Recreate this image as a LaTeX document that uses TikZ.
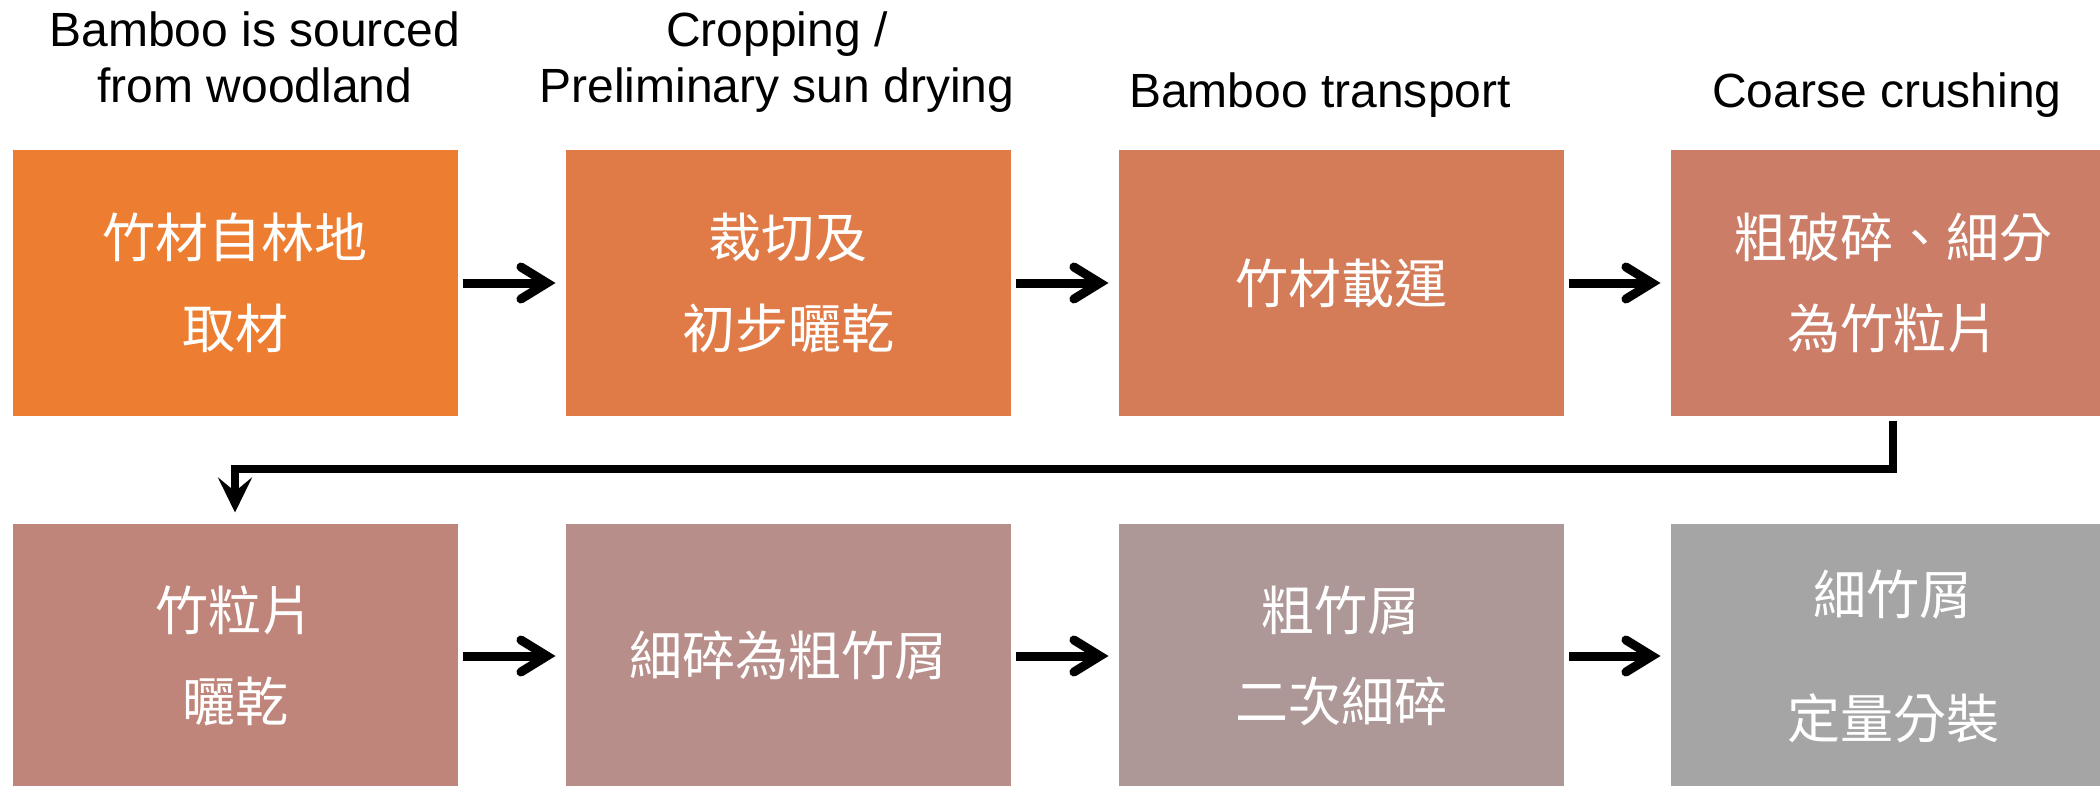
\documentclass[tikz,border=0pt]{standalone}
\usepackage{fontspec}
\setmainfont{Liberation Sans}
\newfontfamily\cjk{Noto Sans CJK TC}
\usetikzlibrary{arrows.meta}
\definecolor{c1}{HTML}{ED7D31}
\definecolor{c2}{HTML}{E07B47}
\definecolor{c3}{HTML}{D47B58}
\definecolor{c4}{HTML}{CB7D68}
\definecolor{c5}{HTML}{BF857A}
\definecolor{c6}{HTML}{B78E8A}
\definecolor{c7}{HTML}{AD9897}
\definecolor{c8}{HTML}{A5A5A5}
\begin{document}
\begin{tikzpicture}[x=1pt,y=-1pt,
  box/.style={minimum width=446pt,minimum height=266pt,inner sep=0pt,text=white,align=center,draw=white,line width=1pt},
  zh/.style={font=\cjk\fontsize{53}{91}\selectfont},
  zhwide/.style={font=\cjk\fontsize{53}{124}\selectfont},
  lab/.style={font=\fontsize{48}{56}\selectfont,align=center,anchor=base,text=black,inner sep=0pt},
  harr/.style={line width=9pt,-{Straight Barb[length=26pt,width=32pt,line cap=round]},shorten <=4pt,shorten >=9pt},
  varr/.style={line width=8pt,-{Stealth[length=35pt,width=34pt,inset=14pt]},shorten <=4pt,shorten >=10pt}]
\useasboundingbox (0,0) rectangle (2100,786);
\fill[white] (0,0) rectangle (2100,786);
% row 1
\node[box,zh,fill=c1] (b1) at (235,283) {竹材自林地\\取材};
\node[box,zh,fill=c2] (b2) at (788,283) {裁切及\\初步曬乾};
\node[box,zh,fill=c3] (b3) at (1341,283) {竹材載運};
\node[box,zh,fill=c4] (b4) at (1893,283) {粗破碎、細分\\為竹粒片};
% row 2
\node[box,zh,fill=c5] (b5) at (235,656) {竹粒片\\曬乾};
\node[box,zh,fill=c6] (b6) at (788,656) {細碎為粗竹屑};
\node[box,zh,fill=c7] (b7) at (1341,656) {粗竹屑\\二次細碎};
\node[box,zhwide,fill=c8] (b8) at (1893,656) {細竹屑\\定量分裝};
% labels
\node[lab] (l1) at (255,103) {Bamboo is sourced\\from woodland};
\node[lab] (l2) at (777,103) {Cropping /\\Preliminary sun drying};
\node[lab] (l3) at (1320,108) {Bamboo transport};
\node[lab] (l4) at (1887,108) {Coarse crushing};
% arrows
\draw[harr] (b1) -- (b2);
\draw[harr] (b2) -- (b3);
\draw[harr] (b3) -- (b4);
\draw[harr] (b5) -- (b6);
\draw[harr] (b6) -- (b7);
\draw[harr] (b7) -- (b8);
\coordinate (t1) at (1893,469);
\coordinate (t2) at (235,469);
\draw[varr] (b4.south) -- (t1) -- (t2) -- (b5.north);
\end{tikzpicture}
\end{document}
